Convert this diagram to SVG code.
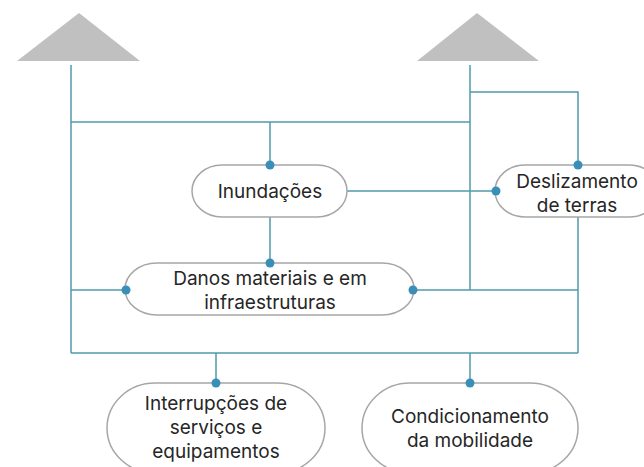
<svg xmlns="http://www.w3.org/2000/svg" width="644" height="467" viewBox="0 0 644 467">
<style>
.conn line, .conn polyline { stroke: #4f9aab; stroke-width: 1.5; fill: none; }
.dot { fill: #3a8fb7; }
.box { fill: #ffffff; stroke: #a6a6a6; stroke-width: 1.5; }
.tri { fill: #c0c0c0; }
.lbl { font-family: Inter, "Open Sans", sans-serif; font-size: 19px; fill: #262626; text-anchor: middle; }
</style>
<rect width="644" height="467" fill="#ffffff"/>
<polygon class="tri" points="79,13 17,61 140,61"/>
<polygon class="tri" points="477,13 417,61 539,61"/>
<g id="connectors" class="conn">
  <line x1="71" y1="65" x2="71" y2="353"/>
  <line x1="71" y1="122" x2="470" y2="122"/>
  <line x1="470" y1="65" x2="470" y2="290"/>
  <polyline points="470,92 578,92 578,165"/>
  <line x1="270" y1="122" x2="270" y2="165"/>
  <line x1="347" y1="191" x2="495" y2="191"/>
  <line x1="270" y1="217" x2="270" y2="263"/>
  <line x1="71" y1="290" x2="125" y2="290"/>
  <line x1="413" y1="290" x2="578" y2="290"/>
  <line x1="578" y1="217" x2="578" y2="353"/>
  <line x1="71" y1="353" x2="578" y2="353"/>
  <line x1="216" y1="353" x2="216" y2="383"/>
  <line x1="470" y1="353" x2="470" y2="383"/>
</g>
<g id="inundacoes">
  <rect class="box" x="192" y="165" width="155" height="52" rx="30" ry="26"/>
  <text class="lbl" x="270" y="198">Inundações</text>
  <circle class="dot" cx="270" cy="165" r="4.5"/>
</g>
<g id="deslizamento">
  <rect class="box" x="495" y="165" width="164" height="52" rx="30" ry="26"/>
  <text class="lbl" x="577" y="188">Deslizamento</text>
  <text class="lbl" x="577" y="211.5">de terras</text>
  <circle class="dot" cx="578" cy="165" r="4.5"/>
  <circle class="dot" cx="496" cy="191" r="4.5"/>
</g>
<g id="danos">
  <rect class="box" x="125" y="263" width="289" height="52" rx="32" ry="26"/>
  <text class="lbl" x="270" y="285">Danos materiais e em</text>
  <text class="lbl" x="270" y="308.5">infraestruturas</text>
  <circle class="dot" cx="270" cy="263" r="4.5"/>
  <circle class="dot" cx="126" cy="290" r="4.5"/>
  <circle class="dot" cx="413" cy="290" r="4.5"/>
</g>
<g id="interrupcoes">
  <rect class="box" x="107" y="383" width="218" height="90" rx="48" ry="45"/>
  <text class="lbl" x="216" y="410">Interrupções de</text>
  <text class="lbl" x="216" y="434">serviços e</text>
  <text class="lbl" x="216" y="458">equipamentos</text>
  <circle class="dot" cx="216" cy="383" r="4.5"/>
</g>
<g id="condicionamento">
  <rect class="box" x="362" y="383" width="216" height="90" rx="48" ry="45"/>
  <text class="lbl" x="470" y="423">Condicionamento</text>
  <text class="lbl" x="470" y="447">da mobilidade</text>
  <circle class="dot" cx="470" cy="383" r="4.5"/>
</g>
</svg>
